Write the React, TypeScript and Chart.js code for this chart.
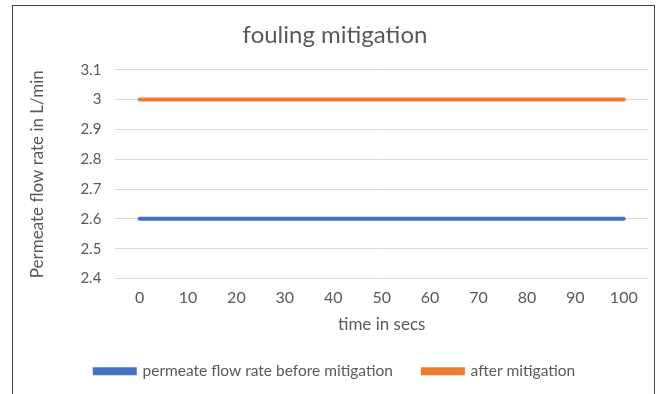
import React, { useEffect, useRef } from "react";
import { Chart, registerables } from "chart.js";

Chart.register(...registerables);

const chartTitle = "fouling mitigation";
const timeLabels = ["0", "10", "20", "30", "40", "50", "60", "70", "80", "90", "100"];
const beforeLabel = "permeate flow rate before mitigation";
const afterLabel = "after mitigation";
const beforeValues = [2.6, 2.6, 2.6, 2.6, 2.6, 2.6, 2.6, 2.6, 2.6, 2.6, 2.6];
const afterValues = [3, 3, 3, 3, 3, 3, 3, 3, 3, 3, 3];
const yMin = 2.4;
const yMax = 3.1;
const yStep = 0.1;
const xTitle = "time in secs";
const yTitle = "Permeate flow rate in L/min";

const FONT = "Lato, 'Open Sans', sans-serif";
const TEXT = "#595959";

export default function App() {
  const ref = useRef<HTMLCanvasElement | null>(null);
  useEffect(() => {
    if (!ref.current) return;
    const chart = new Chart(ref.current, {
      type: "line",
      data: {
        labels: timeLabels,
        datasets: [
          {
            label: beforeLabel,
            data: beforeValues,
            borderColor: "#4472C4",
            backgroundColor: "#4472C4",
            borderWidth: 4,
            pointRadius: 0,
            borderCapStyle: "round",
          },
          {
            label: afterLabel,
            data: afterValues,
            borderColor: "#ED7D31",
            backgroundColor: "#ED7D31",
            borderWidth: 4,
            pointRadius: 0,
            borderCapStyle: "round",
          },
        ],
      },
      options: {
        animation: false,
        responsive: false,
        maintainAspectRatio: false,
        layout: { padding: { left: 8, right: 6, top: 12, bottom: 6 } },
        plugins: {
          title: {
            display: true,
            text: chartTitle,
            color: TEXT,
            font: { family: FONT, size: 24, weight: "normal" },
            padding: { top: 2, bottom: 20 },
          },
          legend: {
            position: "bottom",
            labels: {
              color: TEXT,
              font: { family: FONT, size: 15.5 },
              boxWidth: 40,
              boxHeight: 4,
              padding: 30,
            },
          },
          tooltip: { enabled: false },
        },
        scales: {
          x: {
            type: "category",
            offset: true,
            grid: { display: false, drawTicks: false },
            border: { display: false },
            ticks: { color: TEXT, font: { family: FONT, size: 16, lineHeight: 1 }, padding: 11 },
            title: {
              display: true,
              text: xTitle,
              color: TEXT,
              font: { family: FONT, size: 17, lineHeight: 1 },
              padding: { top: 0, bottom: 0 },
            },
          },
          y: {
            min: yMin,
            max: yMax,
            ticks: {
              stepSize: yStep,
              color: TEXT,
              font: { family: FONT, size: 15 },
              padding: 14,
              callback: (v: any) => String(Math.round(Number(v) * 10) / 10),
            },
            grid: { color: "#D9D9D9", drawTicks: false },
            border: { display: false },
            title: {
              display: true,
              text: yTitle,
              color: TEXT,
              font: { family: FONT, size: 17 },
              padding: { top: 5, bottom: 19 },
            },
          },
        },
      },
    });
    return () => chart.destroy();
  }, []);
  return (
    <div style={{ position: "fixed", left: 0, top: 0, width: 657, height: 394, background: "#fff" }}>
      <div
        style={{
          position: "absolute",
          left: 12,
          top: 5,
          width: 643,
          height: 400,
          borderLeft: "1.5px solid #444",
          borderTop: "1.5px solid #444",
          borderRight: "1.5px solid #444",
          boxSizing: "border-box",
        }}
      />
      <canvas
        ref={ref}
        width={640}
        height={388}
        style={{ position: "absolute", left: 14, top: 7 }}
      />
    </div>
  );
}
